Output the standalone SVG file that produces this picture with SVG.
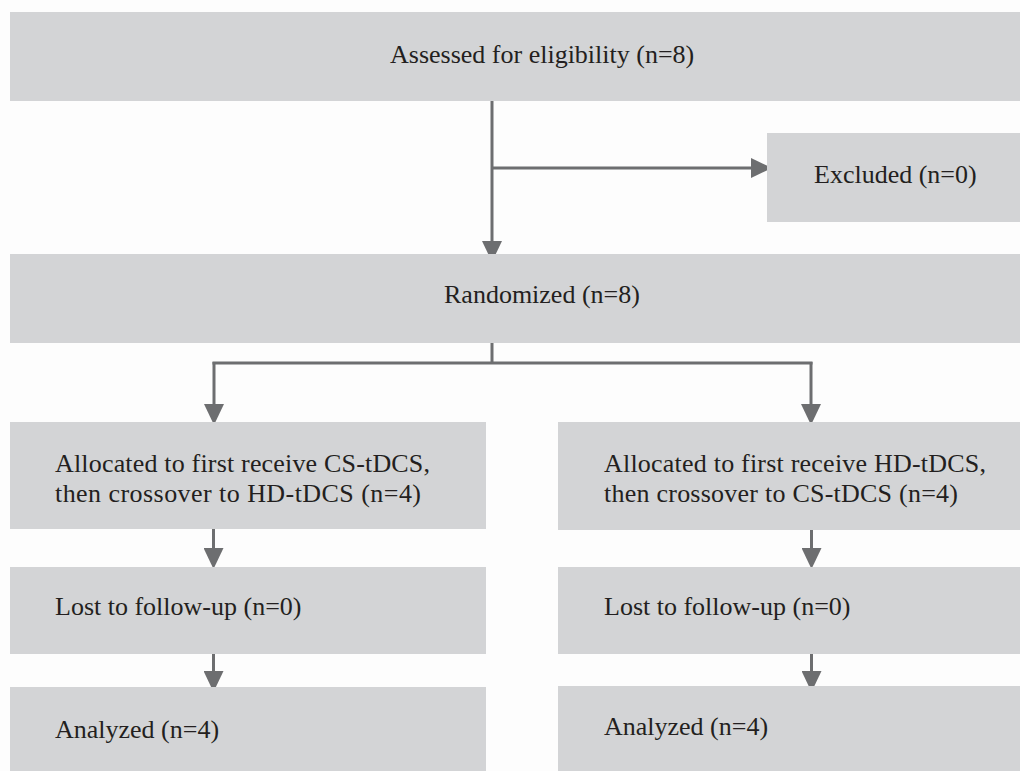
<svg xmlns="http://www.w3.org/2000/svg" width="1020" height="771" viewBox="0 0 1020 771">
  <defs>
    <marker id="arrow" markerUnits="userSpaceOnUse" markerWidth="21" markerHeight="20" refX="0" refY="10" orient="auto" viewBox="0 0 21 20">
      <path d="M0,0 L21,10 L0,20 Z" fill="#6d6e70"/>
    </marker>
    <style>
      .box { fill: #d3d4d6; }
      .lbl { font-family: "Liberation Serif", "Times New Roman", serif; font-size: 26px; fill: #231f20; }
      .conn { stroke: #6d6e70; stroke-width: 3; fill: none; }
      .arr { marker-end: url(#arrow); }
    </style>
  </defs>
  <rect x="0" y="0" width="1020" height="771" fill="#fdfdfd"/>

  <g id="connectors">
    <line class="conn arr" x1="492" y1="101" x2="492" y2="241"/>
    <line class="conn arr" x1="492" y1="168" x2="751" y2="168"/>
    <line class="conn" x1="492" y1="343" x2="492" y2="363"/>
    <line class="conn" x1="212.5" y1="363" x2="812.5" y2="363"/>
    <line class="conn arr" x1="214" y1="362" x2="214" y2="404"/>
    <line class="conn arr" x1="811" y1="362" x2="811" y2="404"/>
    <line class="conn arr" x1="213.5" y1="529" x2="213.5" y2="548"/>
    <line class="conn arr" x1="213.5" y1="654" x2="213.5" y2="671"/>
    <line class="conn arr" x1="811.5" y1="530" x2="811.5" y2="548"/>
    <line class="conn arr" x1="811.5" y1="654" x2="811.5" y2="671"/>
  </g>

  <g id="assessed">
    <rect class="box" x="10" y="12" width="1010" height="89"/>
    <text class="lbl" x="390" y="63">Assessed for eligibility (n=8)</text>
  </g>

  <g id="excluded">
    <rect class="box" x="767" y="133" width="253" height="89"/>
    <text class="lbl" x="814" y="183">Excluded (n=0)</text>
  </g>

  <g id="randomized">
    <rect class="box" x="10" y="254" width="1010" height="89"/>
    <text class="lbl" x="444" y="303">Randomized (n=8)</text>
  </g>

  <g id="alloc-left">
    <rect class="box" x="10" y="422" width="476" height="107"/>
    <text class="lbl" x="55" y="472" textLength="375">Allocated to first receive CS-tDCS,</text>
    <text class="lbl" x="55" y="502" textLength="366">then crossover to HD-tDCS (n=4)</text>
  </g>

  <g id="alloc-right">
    <rect class="box" x="558" y="422" width="462" height="108"/>
    <text class="lbl" x="604" y="472" textLength="382">Allocated to first receive HD-tDCS,</text>
    <text class="lbl" x="604" y="502" textLength="354">then crossover to CS-tDCS (n=4)</text>
  </g>

  <g id="lost-left">
    <rect class="box" x="10" y="567" width="476" height="87"/>
    <text class="lbl" x="55" y="615">Lost to follow-up (n=0)</text>
  </g>

  <g id="lost-right">
    <rect class="box" x="558" y="567" width="462" height="87"/>
    <text class="lbl" x="604" y="615">Lost to follow-up (n=0)</text>
  </g>

  <g id="analyzed-left">
    <rect class="box" x="10" y="687" width="476" height="84"/>
    <text class="lbl" x="55" y="738">Analyzed (n=4)</text>
  </g>

  <g id="analyzed-right">
    <rect class="box" x="558" y="686" width="462" height="85"/>
    <text class="lbl" x="604" y="735">Analyzed (n=4)</text>
  </g>
</svg>
